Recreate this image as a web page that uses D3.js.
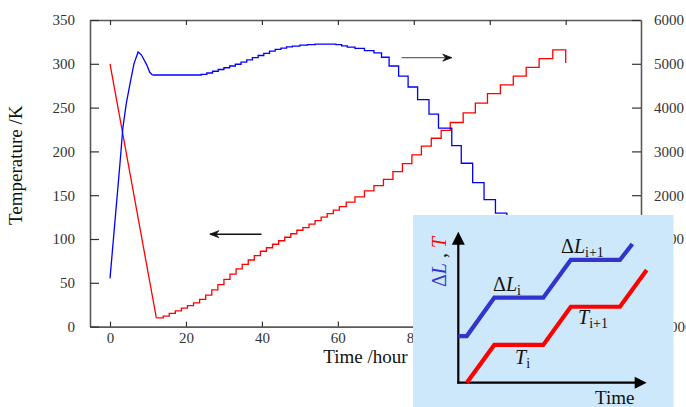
<!DOCTYPE html>
<html>
<head>
<meta charset="utf-8">
<script src="https://cdn.jsdelivr.net/npm/d3@7"></script>
<style>
  body { margin: 0; background: #fff; }
  svg { display: block; font-family: "Liberation Serif", "Times New Roman", serif; }
</style>
</head>
<body>
<div id="chart"></div>
<script>
// ── data ──────────────────────────────────────────────────
const xTicks = [0, 20, 40, 60, 80, 100, 120];
const tempTicks = [0, 50, 100, 150, 200, 250, 300, 350];
const dlTicks = [-1000, 0, 1000, 2000, 3000, 4000, 5000, 6000];

// temperature (K): fast cool-down, then stepped warm-up
const tempRamp = [[0, 300], [12.2, 10]];
const tempSteps = [
  [12.2, 10], [14.0, 12], [15.6, 15], [17.2, 18], [18.8, 21], [20.4, 24], [22.0, 27],
  [23.6, 31], [25.2, 36], [26.8, 42], [28.4, 48], [30.0, 54], [31.6, 60], [33.2, 66],
  [34.8, 71], [36.4, 76], [38.0, 81], [39.6, 86], [41.2, 90], [42.8, 94], [44.4, 98],
  [46.0, 102], [47.6, 106], [49.2, 110], [50.8, 113], [52.4, 117], [54.0, 121],
  [55.6, 125], [57.2, 129], [58.8, 133], [60.4, 137], [62.2, 142], [64.5, 148],
  [67.0, 155], [69.5, 161], [72.0, 168], [74.5, 177], [77.0, 186], [79.5, 196],
  [82.0, 206], [84.6, 215], [87.2, 224], [89.6, 233], [93.0, 244], [96.2, 255],
  [99.4, 266], [102.8, 276], [106.2, 286], [109.6, 296], [113.0, 306], [116.6, 316],
  [120.0, 301]
];

// length change ΔL (right axis)
const dlRise = [
  [0, 100], [1.0, 1100], [1.8, 1900], [2.6, 2700], [3.4, 3550], [4.3, 4100], [5.3, 4560],
  [6.3, 5000], [7.4, 5270], [8.3, 5200], [9.7, 4970], [10.5, 4800], [11.2, 4744]
];
const dlSteps = [
  [11.2, 4744], [24, 4760], [25.5, 4790], [27, 4830], [28.5, 4870], [30, 4910], [31.5, 4950],
  [33, 4990], [34.5, 5040], [36, 5090], [37.5, 5140], [39, 5190], [40.5, 5240], [42, 5290],
  [43.5, 5330], [45, 5360], [46.5, 5385], [48, 5405], [50, 5425], [52, 5440], [54, 5450],
  [59.5, 5440], [61, 5410], [62.5, 5380], [64.5, 5350], [67, 5300], [69.5, 5250],
  [71.5, 5150], [73.5, 4950], [76, 4720], [78.5, 4470], [81, 4180], [84, 3850],
  [86.5, 3530], [90, 3130], [92.5, 2730], [95.5, 2285], [98.5, 1900], [101.5, 1590],
  [104.5, 1200]
];

// arrows: [t0, t1, value on their axis]
const arrowRight = [76.8, 90.0, 5140];
const arrowLeft = [39.9, 26.3, 105.5];

// inset schematic (0..100 in both directions)
const insetBlue = [[0, 30.9], [4.5, 30.9], [19.1, 56.3], [45.1, 56.3], [59.7, 81.3], [85.8, 81.3], [92.4, 91.9]];
const insetRed = [[4.5, 0], [19.1, 25], [45.1, 25], [59.7, 50.3], [85.8, 50.3], [100, 74.6]];

// ── layout ────────────────────────────────────────────────
const W = 686, H = 407;
const svg = d3.select('#chart').append('svg')
  .attr('width', W).attr('height', H);

const x = d3.scaleLinear().domain([-5.27, 139.83]).range([90, 641]);
const yT = d3.scaleLinear().domain([0, 350]).range([326.6, 20]);
const yL = d3.scaleLinear().domain([-1000, 6000]).range([326.6, 20]);

const axisColor = '#5a5a5a';
function styleAxis(g) {
  g.selectAll('.domain').attr('stroke', axisColor).attr('stroke-width', 1.6);
  g.selectAll('.tick line').attr('stroke', '#333').attr('stroke-width', 1.2);
  g.selectAll('.tick text').attr('fill', '#333').style('font-size', '15px')
    .style('font-family', '"Liberation Serif", serif');
}

svg.append('g').attr('transform', `translate(0,${yT(0)})`)
  .call(d3.axisBottom(x).tickValues(xTicks).tickSize(-5).tickSizeOuter(0).tickPadding(6))
  .call(styleAxis);
svg.append('g').attr('transform', `translate(0,${yT(350)})`)
  .call(d3.axisTop(x).tickValues(xTicks).tickSize(-5).tickSizeOuter(0).tickFormat(''))
  .call(styleAxis);
svg.append('g').attr('transform', `translate(${x.range()[0]},0)`)
  .call(d3.axisLeft(yT).tickValues(tempTicks).tickSize(-9).tickSizeOuter(0).tickPadding(15))
  .call(styleAxis);
svg.append('g').attr('transform', `translate(${x.range()[1]},0)`)
  .call(d3.axisRight(yL).tickValues(dlTicks).tickFormat(d3.format('d'))
    .tickSize(-9).tickSizeOuter(0).tickPadding(13))
  .call(styleAxis);

// axis titles
svg.append('text')
  .attr('transform', `translate(22,${(yT(0) + yT(350)) / 2 - 8}) rotate(-90)`)
  .attr('text-anchor', 'middle')
  .style('font-size', '19px').attr('fill', '#111')
  .text('Temperature /K');
svg.append('text')
  .attr('x', (x.range()[0] + x.range()[1]) / 2).attr('y', 363)
  .attr('text-anchor', 'middle')
  .style('font-size', '19px').attr('fill', '#111')
  .text('Time /hour');

// ── curves ────────────────────────────────────────────────
const lineT = d3.line().x(d => x(d[0])).y(d => yT(d[1]));
const lineL = d3.line().x(d => x(d[0])).y(d => yL(d[1]));

svg.append('path').datum(tempRamp).attr('d', lineT)
  .attr('fill', 'none').attr('stroke', '#ff0000').attr('stroke-width', 1.3);
svg.append('path').datum(tempSteps).attr('d', lineT.curve(d3.curveStepAfter))
  .attr('fill', 'none').attr('stroke', '#ff0000').attr('stroke-width', 1.3);
svg.append('path').datum(dlRise).attr('d', lineL)
  .attr('fill', 'none').attr('stroke', '#0000ff').attr('stroke-width', 1.3);
svg.append('path').datum(dlSteps).attr('d', lineL.curve(d3.curveStepAfter))
  .attr('fill', 'none').attr('stroke', '#0000ff').attr('stroke-width', 1.3);

// annotation arrows
function drawArrow(x0, x1, y, color) {
  const dir = Math.sign(x1 - x0);
  svg.append('line').attr('x1', x0).attr('x2', x1).attr('y1', y).attr('y2', y)
    .attr('stroke', color).attr('stroke-width', 1.4);
  svg.append('path')
    .attr('d', `M${x1},${y} L${x1 - dir * 9},${y - 3.5} L${x1 - dir * 6},${y} L${x1 - dir * 9},${y + 3.5} Z`)
    .attr('fill', '#111').attr('stroke', '#111').attr('stroke-width', 0.8);
}
drawArrow(x(arrowRight[0]), x(arrowRight[1]), yL(arrowRight[2]), '#666');
drawArrow(x(arrowLeft[0]), x(arrowLeft[1]), yT(arrowLeft[2]), '#111');

// ── inset ─────────────────────────────────────────────────
const inset = svg.append('g');
inset.append('rect').attr('x', 413).attr('y', 215).attr('width', 260.5).attr('height', H - 215)
  .attr('fill', '#cce8fa');

const ix = d3.scaleLinear().domain([0, 100]).range([458.3, 646.7]);
const iy = d3.scaleLinear().domain([0, 100]).range([382.7, 231.7]);
const iline = d3.line().x(d => ix(d[0])).y(d => iy(d[1]));

// axes with arrowheads
inset.append('line').attr('x1', ix(0)).attr('x2', ix(0)).attr('y1', iy(0) + 1).attr('y2', iy(92))
  .attr('stroke', '#000').attr('stroke-width', 2.2);
inset.append('line').attr('x1', ix(0) - 1).attr('x2', ix(94)).attr('y1', iy(0)).attr('y2', iy(0))
  .attr('stroke', '#000').attr('stroke-width', 2.2);
inset.append('path')
  .attr('d', `M${ix(0)},${iy(100)} L${ix(0) - 6.5},${iy(100) + 13} L${ix(0) + 6.5},${iy(100) + 13} Z`)
  .attr('fill', '#000');
inset.append('path')
  .attr('d', `M${ix(100)},${iy(0)} L${ix(100) - 12},${iy(0) - 6} L${ix(100) - 12},${iy(0) + 6} Z`)
  .attr('fill', '#000');

inset.append('path').datum(insetBlue).attr('d', iline)
  .attr('fill', 'none').attr('stroke', '#3434cc').attr('stroke-width', 4.2);
inset.append('path').datum(insetRed).attr('d', iline)
  .attr('fill', 'none').attr('stroke', '#ff0000').attr('stroke-width', 4.2);

function subLabel(px, py, delta, letter, sub) {
  const t = inset.append('text').attr('x', px).attr('y', py)
    .style('font-size', '20px').attr('fill', '#111');
  if (delta) t.append('tspan').text('Δ');
  t.append('tspan').style('font-style', 'italic').text(letter);
  t.append('tspan').attr('dy', 4).style('font-size', '14px').text(sub);
}
subLabel(493, 291, true, 'L', 'i');
subLabel(561, 253, true, 'L', 'i+1');
subLabel(515, 364, false, 'T', 'i');
subLabel(578, 324, false, 'T', 'i+1');

inset.append('text').attr('x', 595).attr('y', 404)
  .style('font-size', '19px').attr('fill', '#111').text('Time');

const vlab = inset.append('text')
  .attr('transform', 'translate(446,287) rotate(-90)')
  .style('font-size', '20px');
vlab.append('tspan').attr('fill', '#3434cc').text('Δ');
vlab.append('tspan').attr('fill', '#3434cc').style('font-style', 'italic').text('L');
vlab.append('tspan').attr('fill', '#111').text(' , ');
vlab.append('tspan').attr('fill', '#ff0000').style('font-style', 'italic').text('T');
</script>
</body>
</html>
